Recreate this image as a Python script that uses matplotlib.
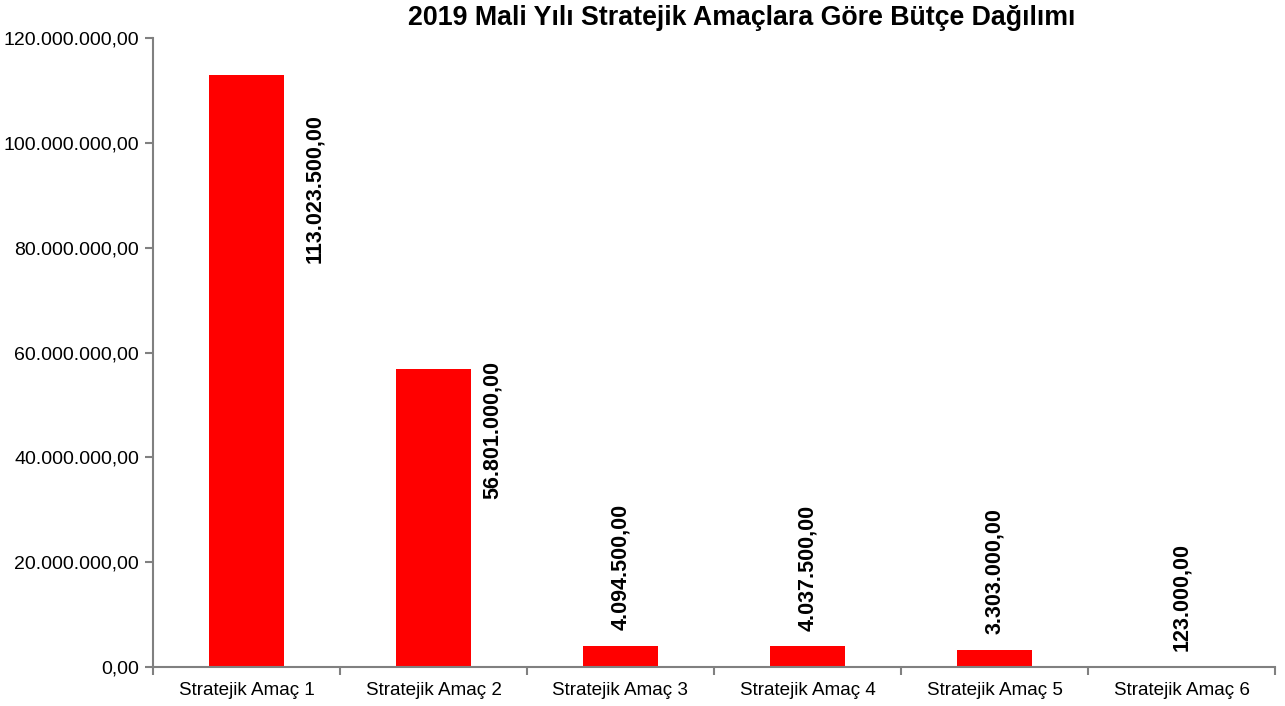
import matplotlib
matplotlib.use("Agg")
import matplotlib.pyplot as plt
import numpy as np
from matplotlib.ticker import FuncFormatter, FixedLocator

plt.rcParams['font.family'] = ['Liberation Sans', 'DejaVu Sans']

title = "2019 Mali Yılı Stratejik Amaçlara Göre Bütçe Dağılımı"
categories = ["Stratejik Amaç 1", "Stratejik Amaç 2", "Stratejik Amaç 3",
              "Stratejik Amaç 4", "Stratejik Amaç 5", "Stratejik Amaç 6"]
values = [113023500.00, 56801000.00, 4094500.00, 4037500.00, 3303000.00, 123000.00]
yticks = [0, 20000000, 40000000, 60000000, 80000000, 100000000, 120000000]


def tr_fmt(v, pos=None):
    s = f"{v:,.2f}"
    return s.replace(",", "X").replace(".", ",").replace("X", ".")


fig = plt.figure(figsize=(12.85, 7.06), dpi=100)
ax = fig.add_axes([153/1285, 39/706, (1275-153)/1285, (667-38)/706])

x = np.arange(len(categories))
ax.bar(x, values, width=0.40, color='#ff0000', zorder=2)

ax.set_xlim(-0.5, len(categories) - 0.5)
ax.set_ylim(0, 120000000)
ax.set_yticks(yticks)
ax.yaxis.set_major_formatter(FuncFormatter(tr_fmt))
ax.set_xticks(x)
ax.set_xticklabels(categories)
ax.xaxis.set_minor_locator(FixedLocator(np.arange(-0.5, len(categories), 1.0)))
ax.tick_params(axis='x', which='major', length=0, labelsize=13.6, pad=11)
ax.tick_params(axis='x', which='minor', length=6, color='#808080', width=1.5)
ax.tick_params(axis='y', which='major', length=6, color='#808080', width=1.5,
               labelsize=14, pad=4)
for s in ['top', 'right']:
    ax.spines[s].set_visible(False)
for s in ['left', 'bottom']:
    ax.spines[s].set_color('#808080')
    ax.spines[s].set_linewidth(1.5)

# data labels (Excel-style placement)
label_dx = [0.365, 0.315, 0, 0, 0, 0]
label_mode = ['side', 'side', 'top', 'top', 'top', 'top']
label_dy_pts = [-82, -44, 11, 11, 11, 11]
for i, v in enumerate(values):
    va = 'center' if label_mode[i] == 'side' else 'bottom'
    ax.annotate(tr_fmt(v), xy=(x[i] + label_dx[i], v), xytext=(0, label_dy_pts[i]),
                textcoords='offset points', rotation=90, ha='center', va=va,
                fontsize=15.5, fontweight='bold', color='black')

fig.text(742/1285, 1 - 18/706, title, ha='center', va='center',
         fontsize=19.3, fontweight='bold')

fig.savefig("out.png", dpi=100)
